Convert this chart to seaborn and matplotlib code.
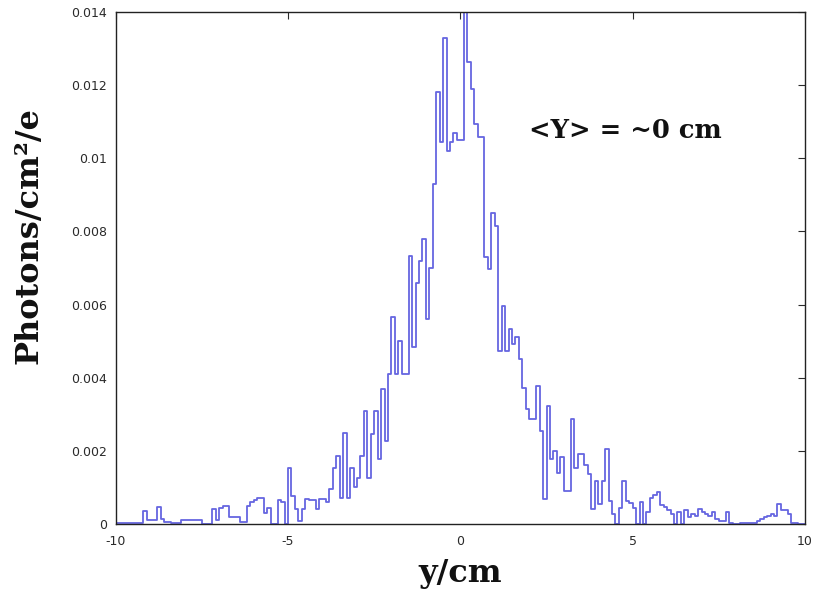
import numpy as np
import pandas as pd
import seaborn as sns
import matplotlib
matplotlib.use("Agg")
import matplotlib.pyplot as plt

# 200 bins of 0.1 between -10 and 10
n_bins = 200
centers = np.round(np.linspace(-9.95, 9.95, n_bins), 2)

# photons/cm^2/e per bin
photons = [
    # -10.0 .. -7.5
    0.00003, 0.00003, 0.00003, 0.00003, 0.00003, 0.00003, 0.00003, 0.00003, 0.00035, 0.0001,
    0.0001, 0.0001, 0.00047, 0.00015, 0.00005, 0.00005, 0.00002, 0.00002, 0.00002, 0.0001,
    0.0001, 0.0001, 0.0001, 0.0001, 0.0001,
    # -7.5 .. -5.0
    0.0, 0.0, 0.0, 0.0004, 0.0001, 0.00045, 0.0005, 0.0005, 0.0002, 0.0002,
    0.0002, 0.00005, 0.00005, 0.0005, 0.0006, 0.00065, 0.0007, 0.0007, 0.0003, 0.00045,
    0.0, 0.0, 0.00065, 0.0006, 0.0,
    # -5.0 .. -2.5
    0.00154, 0.00077, 0.0004, 0.00008, 0.0004, 0.00068, 0.00066, 0.00066, 0.0004, 0.00068,
    0.00068, 0.0006, 0.00095, 0.00154, 0.00186, 0.00072, 0.0025, 0.00072, 0.00154, 0.001,
    0.00127, 0.00186, 0.0031, 0.00127, 0.00246,
    # -2.5 .. 0.0
    0.0031, 0.00178, 0.0037, 0.00227, 0.0041, 0.00565, 0.0041, 0.005, 0.0041, 0.0041,
    0.00734, 0.00483, 0.0066, 0.0072, 0.0078, 0.0056, 0.0070, 0.0093, 0.0118, 0.01045,
    0.0133, 0.0102, 0.01045, 0.0107, 0.0105,
    # 0.0 .. 2.5
    0.0105, 0.0142, 0.01264, 0.0119, 0.01095, 0.01058, 0.01058, 0.0073, 0.00696, 0.0085,
    0.00816, 0.00474, 0.00597, 0.00474, 0.00534, 0.00493, 0.0051, 0.00452, 0.00373, 0.00315,
    0.00288, 0.00288, 0.00378, 0.00255, 0.00068,
    # 2.5 .. 5.0
    0.00323, 0.00178, 0.002, 0.0014, 0.00182, 0.0009, 0.0009, 0.00288, 0.00154, 0.00192,
    0.00192, 0.0016, 0.00137, 0.0004, 0.00118, 0.00054, 0.00118, 0.00205, 0.00063, 0.00027,
    0.0, 0.00045, 0.00118, 0.00063, 0.00058,
    # 5.0 .. 7.5
    0.00045, 0.0, 0.0006, 0.0, 0.00032, 0.0007, 0.00078, 0.00087, 0.00052, 0.00046,
    0.00037, 0.00027, 0.0, 0.00032, 0.0, 0.00037, 0.00018, 0.00027, 0.00023, 0.00041,
    0.00032, 0.00027, 0.00023, 0.00032, 0.00013,
    # 7.5 .. 10.0
    0.00009, 0.00009, 0.00032, 0.00004, 0.0, 0.0, 0.00004, 0.00004, 0.00004, 0.00004,
    0.00004, 0.00009, 0.00013, 0.00018, 0.00023, 0.00027, 0.00023, 0.00055, 0.00037, 0.00037,
    0.00027, 0.00004, 0.00004, 0.0, 0.0,
]

x_ticks = [-10, -5, 0, 5, 10]
y_ticks = [0, 0.002, 0.004, 0.006, 0.008, 0.01, 0.012, 0.014]
y_tick_labels = ["0", "0.002", "0.004", "0.006", "0.008", "0.01", "0.012", "0.014"]

df = pd.DataFrame({"y": centers, "w": photons})

sns.set_style("white")
plt.rcParams["font.family"] = ["DejaVu Sans"]

fig = plt.figure(figsize=(8.21, 6.02), dpi=100)
ax = fig.add_axes([115.7 / 821, 1 - 524 / 602, 689.3 / 821, 512 / 602])

sns.histplot(data=df, x="y", weights="w", bins=n_bins, binrange=(-10, 10),
             element="step", fill=False, color="#6666e0", linewidth=1.3, ax=ax)

ax.set_xlim(-10, 10)
ax.set_ylim(0, 0.014)
ax.set_xticks(x_ticks)
ax.set_xticklabels([str(t) for t in x_ticks])
ax.set_yticks(y_ticks)
ax.set_yticklabels(y_tick_labels)
ax.tick_params(direction="in", length=5, width=0.8, top=True, right=True,
               labelsize=9, labelcolor="#2a2a2a", colors="#2a2a2a")
ax.tick_params(axis="x", pad=8)
ax.tick_params(axis="y", pad=6)
for s in ax.spines.values():
    s.set_color("#222222")
    s.set_linewidth(1.0)

serif = {"family": "DejaVu Serif", "weight": "bold"}
ax.set_ylabel("Photons/cm\u00b2/e", fontdict=serif, fontsize=23, color="#111111")
ax.yaxis.set_label_coords(-0.103, 0.564)
ax.set_xlabel("y/cm", fontdict=serif, fontsize=23, color="#111111")
ax.xaxis.set_label_coords(0.5, -0.066)

ax.text(4.8, 0.01077, "<Y> = ~0 cm", fontdict=serif, fontsize=18.5,
        color="#111111", ha="center", va="center")

fig.savefig("out.png", dpi=100)
